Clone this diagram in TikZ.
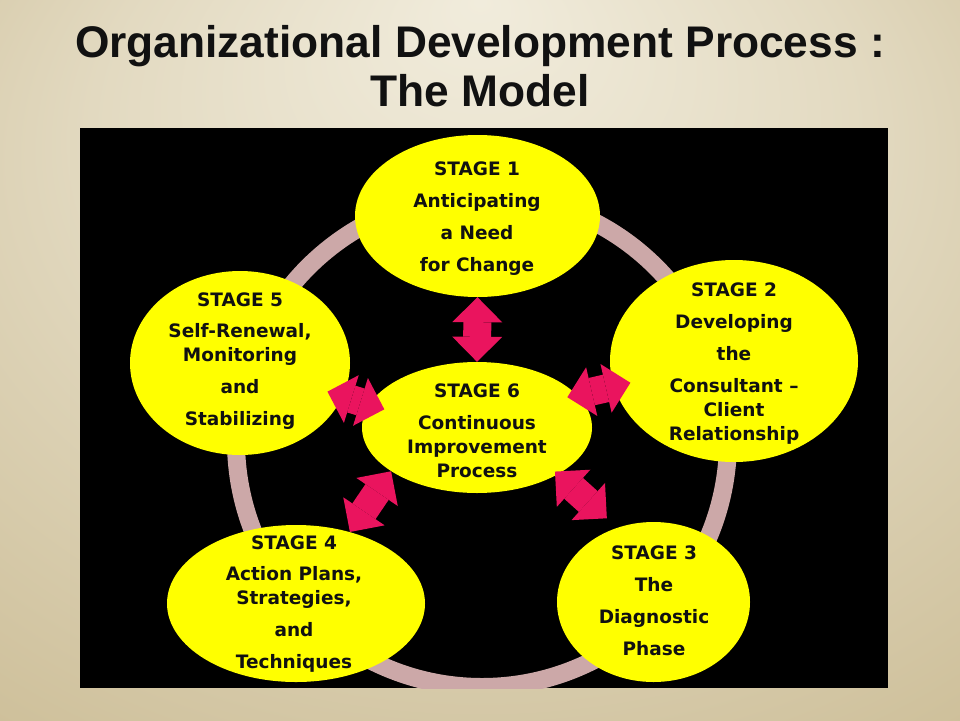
\documentclass[tikz,border=0pt]{standalone}
\usepackage{fontspec}
\setmainfont{Liberation Sans}
\newfontfamily\stagefont{DejaVu Sans}
\usetikzlibrary{shapes.geometric,arrows.meta,positioning}

\definecolor{bglight}{RGB}{241,236,220}
\definecolor{bgdark}{RGB}{192,174,128}
\definecolor{ringgray}{RGB}{204,168,168}
\definecolor{stageyellow}{RGB}{255,255,0}
\definecolor{arrowpink}{RGB}{234,20,94}
\definecolor{titleblack}{RGB}{17,17,17}

\pgfdeclareradialshading{bgglow}{\pgfpoint{0bp}{25bp}}{color(0bp)=(bglight); color(20bp)=(bglight!70!bgdark); color(55bp)=(bgdark)}

\tikzset{
  stage/.style={ellipse, fill=stageyellow, inner sep=0pt},
  stagetext/.style={font=\stagefont\bfseries\fontsize{18.5}{24}\selectfont, align=center, inner sep=0pt, text=titleblack},
  link/.style={draw=arrowpink, line width=28pt,
    {Triangle[width=50pt, length=25pt, line width=0pt]}-{Triangle[width=50pt, length=25pt, line width=0pt]}}
}

\begin{document}
\begin{tikzpicture}[x=1pt, y=-1pt]
        \useasboundingbox (0,0) rectangle (960,720);
        \shade [shading=bgglow] (0,0) rectangle (960,720);

        % Title
        \node (title) [font=\bfseries\fontsize{44.3}{49}\selectfont, align=center, text=titleblack] at (480,66.5) {Organizational Development Process :\\The Model};

        % Black panel and ring
        \fill [black] (80,128) rectangle (888,688);
        \begin{scope}
          \clip (80,128) rectangle (888,688);
          \draw [ringgray, line width=18pt] (482,441) circle [radius=246pt];
        \end{scope}

        % Stages
        \node (s1) [stage, minimum width=245pt, minimum height=162pt] at (477.5,216) {};
        \node (s2) [stage, minimum width=248pt, minimum height=202pt] at (734,361) {};
        \node (s3) [stage, minimum width=193pt, minimum height=160pt] at (653.5,602) {};
        \node (s4) [stage, minimum width=258pt, minimum height=157pt] at (296,603.5) {};
        \node (s5) [stage, minimum width=220pt, minimum height=184pt] at (240,363) {};
        \node (s6) [stage, minimum width=230pt, minimum height=131pt] at (477,427.5) {};

        % Stage texts
        \node (t1) [stagetext] at (477,218.5) {STAGE 1\\[8pt]Anticipating\\[8pt]a Need\\[8pt]for Change};
        \node (t2) [stagetext] at (734,363.5) {STAGE 2\\[8pt]Developing\\[8pt]the\\[8pt]Consultant –\\Client\\Relationship};
        \node (t3) [stagetext] at (654,600.3) {STAGE 3\\[8pt]The\\[8pt]Diagnostic\\[8pt]Phase};
        \node (t4) [stagetext] at (294,604) {STAGE 4\\[7pt]Action Plans,\\Strategies,\\[8pt]and\\[8pt]Techniques};
        \node (t5) [stagetext] at (240,361) {STAGE 5\\[7pt]Self-Renewal,\\Monitoring\\[8pt]and\\[8pt]Stabilizing};
        \node (t6) [stagetext] at (477,430.3) {STAGE 6\\[8pt]Continuous\\Improvement\\Process};

        % Arrows
        \draw [link] (s1.south) -- (s6.north);
        \draw [link, shorten <=-16pt, shorten >=-16pt] (s5.342) -- (s6.168);
        \draw [link, shorten <=-10pt, shorten >=-17pt] (s6.18) -- (s2.192);
        \draw [link] (s4.53) -- (s6.207);
        \draw [link, shorten <=-4pt, shorten >=14pt] (s6.330) -- (s3.116);
\end{tikzpicture}
\end{document}
